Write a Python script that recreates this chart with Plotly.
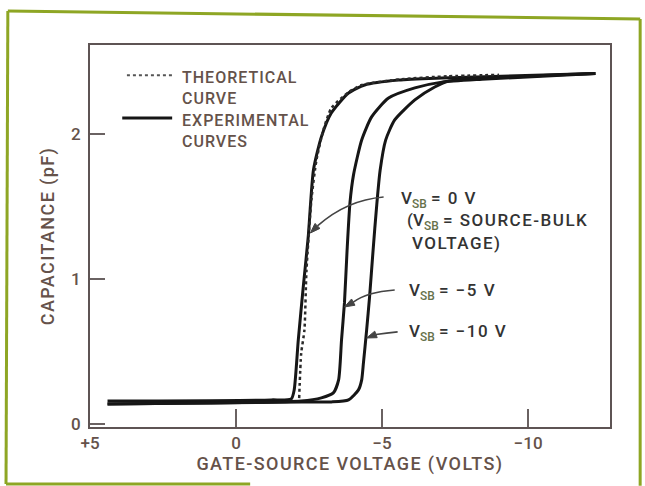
import plotly.graph_objects as go

# Gate-source voltage (V) and capacitance (pF) samples for each curve
vgs_theory = [-2.16, -2.23, -2.34, -2.41, -2.58, -2.75, -2.99, -3.26, -3.85, -4.30, -5.67, -7.22, -9.0]
cap_theory = [0.18, 0.49, 0.65, 1.06, 1.55, 1.82, 2.03, 2.18, 2.29, 2.34, 2.38, 2.40, 2.41]

vgs_vsb0 = [4.4, -1.2, -1.89, -1.99, -2.13, -2.30, -2.47, -2.65, -2.92, -3.26, -3.85, -4.40, -5.57, -7.04, -12.3]
cap_vsb0 = [0.16, 0.168, 0.175, 0.237, 0.582, 0.948, 1.292, 1.755, 1.982, 2.147, 2.285, 2.340, 2.374, 2.388, 2.42]

vgs_vsb5 = [4.4, -2.23, -2.92, -3.33, -3.51, -3.61, -3.71, -3.80, -3.90, -4.02, -4.30, -4.64, -5.22, -6.12, -7.04, -8.42, -12.3]
cap_vsb5 = [0.14, 0.161, 0.182, 0.216, 0.306, 0.582, 0.837, 1.2, 1.53, 1.72, 1.961, 2.12, 2.25, 2.32, 2.36, 2.38, 2.42]

vgs_vsb10 = [4.4, -2.23, -3.26, -3.85, -4.19, -4.30, -4.36, -4.47, -4.57, -4.69, -4.81, -4.93, -5.12, -5.43, -6.12, -6.80, -7.29, -8.76, -12.3]
cap_vsb10 = [0.14, 0.154, 0.154, 0.168, 0.237, 0.306, 0.423, 0.651, 0.879, 1.2, 1.5, 1.75, 1.96, 2.099, 2.237, 2.326, 2.368, 2.39, 2.42]

x_tick_vals = [5, 0, -5, -10]
x_tick_text = ["+5", "0", "\u22125", "\u221210"]
y_tick_vals = [0, 1, 2]
y_tick_text = ["0", "1", "2"]

FONT = "Roboto, Liberation Sans, Arial, sans-serif"
WEIGHT = 500
BROWN = "#65524a"
INK = "#333333"
SUBC = "#66714a"
FRAME = "#8ea624"
ARROW = "#444444"


def spaced(text, px):
    return "<span style='letter-spacing:%spx'>%s</span>" % (px, text)


def vsb(rest):
    return ("V<sub><span style='color:%s'>SB</span></sub> " % SUBC) + rest


fig = go.Figure()

for xs, ys in [(vgs_vsb0, cap_vsb0), (vgs_vsb5, cap_vsb5), (vgs_vsb10, cap_vsb10)]:
    fig.add_trace(go.Scatter(
        x=xs, y=ys, mode="lines",
        line=dict(color="#161616", width=3, shape="spline", smoothing=0.6),
        hoverinfo="skip", showlegend=False))

fig.add_trace(go.Scatter(
    x=vgs_theory, y=cap_theory, mode="lines",
    line=dict(color="#2a2a2a", width=2.5, dash="dot", shape="spline", smoothing=0.6),
    hoverinfo="skip", showlegend=False))

annotations = [
    # key text
    dict(text=spaced("THEORETICAL", 1) + "<br>" + spaced("CURVE", 1), x=0.173, y=0.945,
         font=dict(color=BROWN, size=16)),
    dict(text=spaced("EXPERIMENTAL", 1) + "<br>" + spaced("CURVES", 1), x=0.173, y=0.833,
         font=dict(color=BROWN, size=16)),
]
for a in annotations:
    a.update(xref="paper", yref="paper", xanchor="left", yanchor="top",
             showarrow=False, align="left")
    a["font"].update(family=FONT, weight=WEIGHT)

labels = [
    (vsb(spaced("= 0 V", 1.5)), -5.57, 1.547),
    ("(" + vsb(spaced("= SOURCE-BULK", 1.5)), -5.77, 1.40),
    (spaced("VOLTAGE)", 1.5), -5.95, 1.25),
    (vsb(spaced("= \u22125 V", 1.5)), -5.84, 0.913),
    (vsb(spaced("= \u221210 V", 1.5)), -5.84, 0.63),
]
for txt, xv, yv in labels:
    annotations.append(dict(text=txt, x=xv, y=yv, xref="x", yref="y", xanchor="left",
                            yanchor="middle", showarrow=False,
                            font=dict(family=FONT, size=17, color=INK, weight=WEIGHT)))

# pointer arrows: curved shaft (tail, control, end) and a filled head (tip, two corners)
pointers = [
    ((-5.05, 1.568), (-3.78, 1.547), (-2.786, 1.368),
     (-2.543, 1.319), (-2.871, 1.351), (-2.701, 1.385)),
    ((-5.43, 0.926), (-4.47, 0.912), (-4.012, 0.842),
     (-3.711, 0.809), (-4.070, 0.821), (-3.953, 0.864)),
    ((-5.53, 0.637), (-5.15, 0.630), (-4.789, 0.619),
     (-4.467, 0.595), (-4.831, 0.597), (-4.747, 0.642)),
]
shapes = []
for tail, ctrl, end, tip, c1, c2 in pointers:
    shapes.append(dict(type="path", xref="x", yref="y",
                       path="M %g,%g Q %g,%g %g,%g" % (tail + ctrl + end),
                       line=dict(color=ARROW, width=1.6)))
    shapes.append(dict(type="path", xref="x", yref="y",
                       path="M %g,%g L %g,%g L %g,%g Z" % (tip + c1 + c2),
                       fillcolor=ARROW, line=dict(color=ARROW, width=1)))

shapes += [
    # key samples
    dict(type="line", xref="paper", yref="paper", x0=0.071, x1=0.158, y0=0.921, y1=0.921,
         line=dict(color="#555", width=2, dash="dot")),
    dict(type="line", xref="paper", yref="paper", x0=0.062, x1=0.158, y0=0.809, y1=0.809,
         line=dict(color="#161616", width=3)),
    # outer frame
    dict(type="line", xref="paper", yref="paper", x0=-0.158, y0=1.089, x1=1.058, y1=1.068,
         line=dict(color=FRAME, width=3)),
    dict(type="line", xref="paper", yref="paper", x0=-0.158, y0=1.089, x1=-0.1615, y1=-0.149,
         line=dict(color=FRAME, width=3)),
    dict(type="line", xref="paper", yref="paper", x0=1.058, y0=1.068, x1=1.058, y1=-0.154,
         line=dict(color=FRAME, width=3)),
    dict(type="line", xref="paper", yref="paper", x0=-0.1615, y0=-0.149, x1=0.308, y1=-0.149,
         line=dict(color=FRAME, width=3)),
]

fig.update_layout(
    width=645, height=486, autosize=False,
    margin=dict(l=90, r=35, t=45, b=59),
    paper_bgcolor="white", plot_bgcolor="white",
    font=dict(family=FONT, size=16, color=BROWN, weight=WEIGHT),
    annotations=annotations, shapes=shapes, showlegend=False,
    xaxis=dict(range=[5, -12.8], tickvals=x_tick_vals, ticktext=x_tick_text,
               ticks="inside", ticklen=18, tickwidth=1.5, tickcolor="#6a6262",
               showgrid=False, zeroline=False, showline=True, mirror=True,
               linecolor="#5e5454", linewidth=2,
               title=dict(text=spaced("GATE-SOURCE VOLTAGE (VOLTS)", 1.4), standoff=2,
                          font=dict(size=18, color=BROWN, weight=WEIGHT)),
               tickfont=dict(size=17, color=BROWN, weight=WEIGHT)),
    yaxis=dict(range=[-0.019, 2.616], tickvals=y_tick_vals, ticktext=y_tick_text,
               ticks="inside", ticklen=15, tickwidth=1.5, tickcolor="#6a6262",
               showgrid=False, zeroline=False, showline=True, mirror=True,
               linecolor="#5e5454", linewidth=2, ticklabelstandoff=4,
               title=dict(text=spaced("CAPACITANCE (pF)", 1.4), standoff=12,
                          font=dict(size=18, color=BROWN, weight=WEIGHT)),
               tickfont=dict(size=17, color=BROWN, weight=WEIGHT)),
)

fig.write_html("out.html")
